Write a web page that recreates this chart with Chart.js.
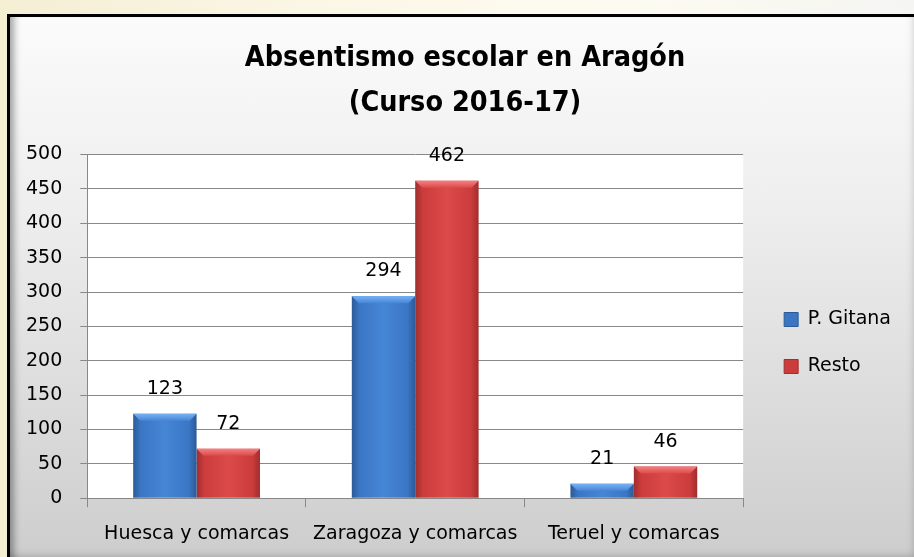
<!DOCTYPE html>
<html>
<head>
<meta charset="utf-8">
<script src="https://cdn.jsdelivr.net/npm/chart.js@4"></script>
<style>
    html, body { margin: 0; padding: 0; width: 914px; height: 557px; overflow: hidden; }
    body { background: linear-gradient(90deg, #f4eed3 0%, #fbf7e6 35%, #fdfbf1 65%, #f5f5f2 100%); position: relative; }
    #frame {
        position: absolute; left: 7px; top: 14px; right: -4px; bottom: -4px;
        border-left: 3px solid #000; border-top: 3px solid #000;
        background: linear-gradient(180deg, #fbfbfb 0%, #eeeeee 35%, #dcdcdc 70%, #cdcdcd 100%);
        box-shadow: inset 9px 0 7px -5px rgba(0,0,0,0.35), inset -9px -10px 8px -6px rgba(0,0,0,0.25);
    }
    #chart { position: absolute; left: 0; top: 0; }
</style>
</head>
<body>
<div id="frame"></div>
<canvas id="chart" width="914" height="557"></canvas>
<script>
const categories = ['Huesca y comarcas', 'Zaragoza y comarcas', 'Teruel y comarcas'];
const gitanaValues = [123, 294, 21];
const restoValues = [72, 462, 46];
const seriesNames = ['P. Gitana', 'Resto'];
const yMax = 500;
const yStep = 50;

// colores: borde oscuro, cuerpo, centro claro, bisel superior
const blue = { dark: '#2c5a96', body: '#3a76c4', light: '#4686d6', bevel: '#78b2f4' };
const red = { dark: '#a02e2e', body: '#cc3c3c', light: '#dc4a4a', bevel: '#f58080' };
const palette = [blue, red];

const FONT = "'DejaVu Sans', Verdana, sans-serif";

function barGradient(ctx, colors) {
    const chart = ctx.chart;
    const xs = chart.scales.x;
    if (!xs || xs.width === undefined || ctx.dataIndex === undefined) return colors.body;
    const catW = xs.width / categories.length;
    const barW = catW * 0.58 / 2;
    const center = xs.getPixelForValue(ctx.dataIndex) + (ctx.datasetIndex === 0 ? -barW / 2 : barW / 2);
    const x0 = center - barW / 2, x1 = center + barW / 2;
    const g = chart.ctx.createLinearGradient(x0, 0, x1, 0);
    g.addColorStop(0, colors.dark);
    g.addColorStop(0.12, colors.body);
    g.addColorStop(0.5, colors.light);
    g.addColorStop(0.88, colors.body);
    g.addColorStop(1, colors.dark);
    return g;
}

const plotBackground = {
    id: 'plotBackground',
    beforeDraw(chart) {
        const { ctx, chartArea } = chart;
        ctx.save();
        ctx.fillStyle = '#ffffff';
        ctx.fillRect(chartArea.left, chartArea.top, chartArea.right - chartArea.left, chartArea.bottom - chartArea.top);
        ctx.restore();
    }
};

// mover leyenda y título a la posición del original
const boxShift = {
    id: 'boxShift',
    afterLayout(chart) {
        const l = chart.legend;
        if (l) {
            l.left += 13; l.right += 13;
            l.top += 63; l.bottom += 63;
        }
        const t = chart.titleBlock;
        if (t) {
            t.left += 17; t.right += 17;
            t.top += 2; t.bottom += 2;
        }
    }
};

const barBevel = {
    id: 'barBevel',
    afterDatasetsDraw(chart) {
        const ctx = chart.ctx;
        chart.data.datasets.forEach((ds, di) => {
            const meta = chart.getDatasetMeta(di);
            const c = palette[di];
            meta.data.forEach(bar => {
                const { x, y, base, width } = bar.getProps(['x', 'y', 'base', 'width'], true);
                const h = Math.min(7, (base - y) / 2);
                const l = x - width / 2, r = x + width / 2;
                const g = ctx.createLinearGradient(0, y, 0, y + h);
                g.addColorStop(0, c.bevel);
                g.addColorStop(1, c.light);
                ctx.save();
                ctx.fillStyle = g;
                ctx.beginPath();
                ctx.moveTo(l, y);
                ctx.lineTo(r, y);
                ctx.lineTo(r - 7, y + h);
                ctx.lineTo(l + 7, y + h);
                ctx.closePath();
                ctx.fill();
                ctx.restore();
            });
        });
    }
};

const valueLabels = {
    id: 'valueLabels',
    afterDatasetsDraw(chart) {
        const ctx = chart.ctx;
        ctx.save();
        ctx.font = '19px ' + FONT;
        ctx.fillStyle = '#000';
        ctx.textAlign = 'center';
        ctx.textBaseline = 'middle';
        chart.data.datasets.forEach((ds, di) => {
            const meta = chart.getDatasetMeta(di);
            meta.data.forEach((bar, i) => {
                ctx.fillText(String(ds.data[i]), bar.x, bar.y - 25);
            });
        });
        ctx.restore();
    }
};

new Chart(document.getElementById('chart'), {
    type: 'bar',
    data: {
        labels: categories,
        datasets: [
            { label: seriesNames[0], data: gitanaValues, backgroundColor: ctx => barGradient(ctx, blue), borderWidth: 0 },
            { label: seriesNames[1], data: restoValues, backgroundColor: ctx => barGradient(ctx, red), borderWidth: 0 }
        ]
    },
    options: {
        responsive: false,
        animation: false,
        layout: { padding: { left: 8, right: 26, top: 0, bottom: -3 } },
        datasets: { bar: { categoryPercentage: 0.58, barPercentage: 1.0 } },
        plugins: {
            title: {
                display: true,
                text: ['Absentismo escolar en Aragón', '(Curso 2016-17)'],
                color: '#000',
                font: { family: "'DejaVu Sans Condensed', 'DejaVu Sans', sans-serif", size: 28.5, weight: 'bold', lineHeight: 1.58 },
                padding: { top: 34, bottom: 30.5 }
            },
            legend: {
                position: 'right',
                labels: {
                    boxWidth: 14,
                    boxHeight: 14,
                    padding: 28,
                    color: '#000',
                    font: { family: FONT, size: 19 },
                    generateLabels: chart => chart.data.datasets.map((ds, i) => ({
                        text: ds.label,
                        fillStyle: palette[i].body,
                        strokeStyle: palette[i].dark,
                        lineWidth: 1,
                        hidden: false,
                        datasetIndex: i,
                        fontColor: '#000'
                    }))
                }
            },
            tooltip: { enabled: false }
        },
        scales: {
            x: {
                grid: { offset: true, drawOnChartArea: false, drawTicks: true, tickLength: 9, color: '#888' },
                border: { color: '#888' },
                ticks: { color: '#000', padding: 15, font: { family: FONT, size: 19 } }
            },
            y: {
                min: 0,
                max: yMax,
                grid: { color: '#888', tickLength: 7 },
                border: { color: '#888' },
                ticks: { stepSize: yStep, color: '#000', padding: 18, font: { family: FONT, size: 19 } }
            }
        }
    },
    plugins: [plotBackground, boxShift, barBevel, valueLabels]
});
</script>
</body>
</html>
